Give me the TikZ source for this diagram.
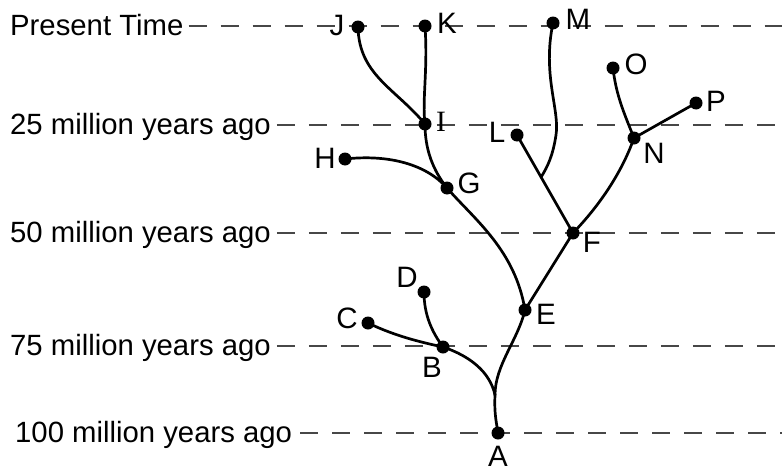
\documentclass[tikz,border=0pt]{standalone}
\usepackage{fontspec}
\setmainfont{Liberation Sans}
\newfontfamily\serifI{Liberation Serif}
\usetikzlibrary{calc}
\begin{document}
\begin{tikzpicture}[x=1pt,y=-1pt,
  dot/.style={circle,fill=black,inner sep=0pt,minimum size=13pt},
  lbl/.style={font=\fontsize{29.5}{34}\selectfont,inner sep=0pt},
  timelbl/.style={font=\fontsize{29.3}{34}\selectfont,inner sep=0pt,anchor=base west},
  dashline/.style={draw=black!72,line width=1.7pt,dash pattern=on 18pt off 14pt},
  branch/.style={line width=2.7pt,line cap=round}]
\useasboundingbox (0,0) rectangle (782,471);

% time labels
\node[timelbl] (t0) at (10,35.5) {Present Time};
\node[timelbl] (t1) at (10,134.5) {25 million years ago};
\node[timelbl] (t2) at (10,242.5) {50 million years ago};
\node[timelbl] (t3) at (10,355.5) {75 million years ago};
\node[timelbl] (t4) at (15,442.5) {100 million years ago};

\coordinate (r0) at (782,26);
\coordinate (r1) at (782,125);
\coordinate (r2) at (782,233);
\coordinate (r3) at (782,346);
\coordinate (r4) at (782,433);

\draw[dashline] ([xshift=5pt]t0.east |- r0) -- (r0);
\draw[dashline] ([xshift=6pt]t1.east |- r1) -- (r1);
\draw[dashline] ([xshift=6pt]t2.east |- r2) -- (r2);
\draw[dashline] ([xshift=6pt]t3.east |- r3) -- (r3);
\draw[dashline] ([xshift=8pt]t4.east |- r4) -- (r4);

% dot positions
\coordinate (A) at (498,433);
\coordinate (B) at (443,347);
\coordinate (C) at (368,323);
\coordinate (D) at (424,292);
\coordinate (E) at (525,310);
\coordinate (F) at (573,233);
\coordinate (G) at (447,188);
\coordinate (H) at (345,159);
\coordinate (I) at (425,124);
\coordinate (J) at (358,27);
\coordinate (K) at (425,26);
\coordinate (L) at (517,135);
\coordinate (M) at (553,23);
\coordinate (N) at (634,138);
\coordinate (O) at (613,68);
\coordinate (P) at (696,103);
\coordinate (AB) at (495,395);
\coordinate (LF) at ($(L)!0.43!(F)$);

% branches
\draw[branch] (J) .. controls (359,75) and (395,88) .. (I);
\draw[branch] (K) .. controls (428,70) and (422,100) .. (I);
\draw[branch] (I) .. controls (425,150) and (433,170) .. (G);
\draw[branch] (H) .. controls (390,154) and (427,165) .. (G);
\draw[branch] (G) .. controls (475,220) and (515,250) .. (E);
\draw[branch] (E) .. controls (518,340) and (495,365) .. (AB);
\draw[branch] (AB) .. controls (494,415) and (497,425) .. (A);
\draw[branch] (B) .. controls (470,356) and (490,372) .. (AB);
\draw[branch] (C) .. controls (395,336) and (420,342) .. (B);
\draw[branch] (D) .. controls (424,315) and (432,332) .. (B);
\draw[branch] (E) -- (F);
\draw[branch] (F) .. controls (600,205) and (622,172) .. (N);
\draw[branch] (N) .. controls (624,113) and (616,95) .. (O);
\draw[branch] (N) -- (P);
\draw[branch] (L) -- (F);
\draw[branch] (M) .. controls (542,75) and (560,110) .. (556,135) .. controls (553,155) and (548,166) .. (LF);

% dots
\foreach \p in {A,B,C,D,E,F,G,H,I,J,K,L,M,N,O,P}
  \node[dot] (d\p) at (\p) {};

% labels
\node[lbl] (lA) at (498,456) {A};
\node[lbl] (lB) at (432,367) {B};
\node[lbl] (lC) at (347,318) {C};
\node[lbl] (lD) at (407,277) {D};
\node[lbl] (lE) at (546,314) {E};
\node[lbl] (lF) at (592,242) {F};
\node[lbl] (lG) at (469,183) {G};
\node[lbl] (lH) at (325,158) {H};
\node[lbl] (lI) at (441,122) {\serifI I};
\node[lbl] (lJ) at (337,25) {J};
\node[lbl] (lK) at (447,23) {K};
\node[lbl] (lL) at (497,132) {L};
\node[lbl] (lM) at (578,19) {M};
\node[lbl] (lN) at (654,153) {N};
\node[lbl] (lO) at (636,64) {O};
\node[lbl] (lP) at (716,101) {P};
\end{tikzpicture}
\end{document}
